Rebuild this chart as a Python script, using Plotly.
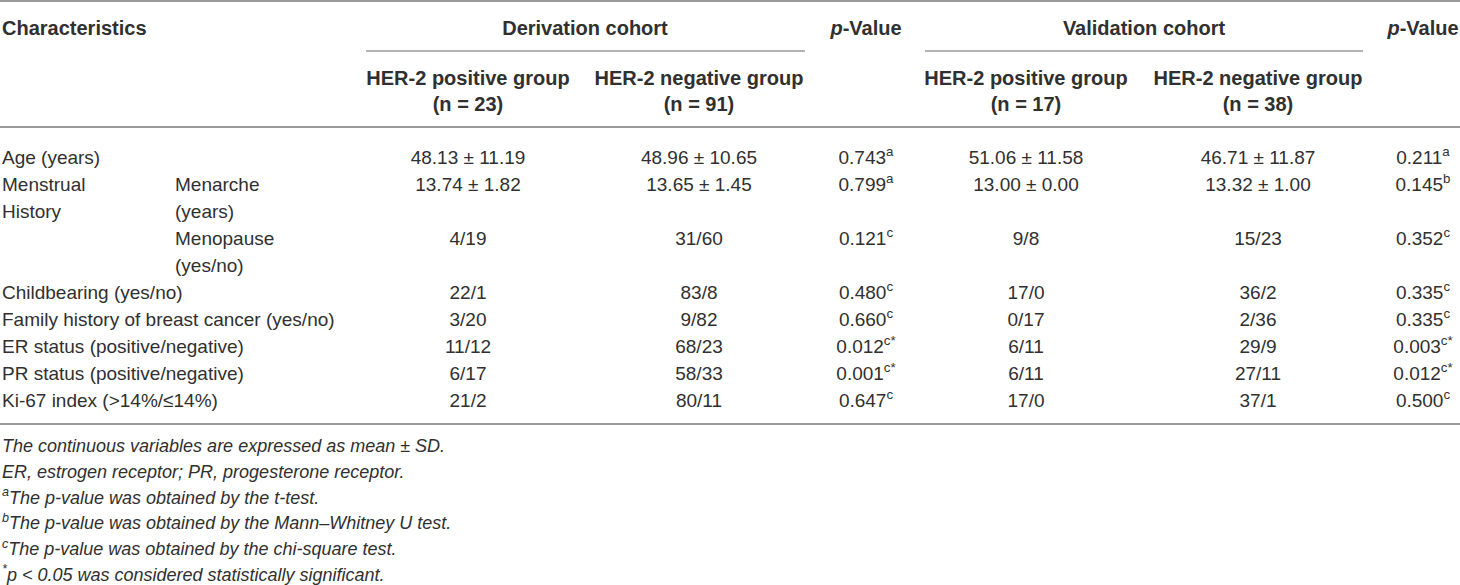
import plotly.graph_objects as go

# table content
row_labels = ["Age (years)", "Menstrual", "History", "", "", "Childbearing (yes/no)",
              "Family history of breast cancer (yes/no)", "ER status (positive/negative)",
              "PR status (positive/negative)", "Ki-67 index (>14%/≤14%)"]
sub_labels = ["", "Menarche", "(years)", "Menopause", "(yes/no)", "", "", "", "", ""]

deriv_pos = ["48.13 ± 11.19", "13.74 ± 1.82", "", "4/19", "", "22/1", "3/20", "11/12", "6/17", "21/2"]
deriv_neg = ["48.96 ± 10.65", "13.65 ± 1.45", "", "31/60", "", "83/8", "9/82", "68/23", "58/33", "80/11"]
deriv_p = ["0.743", "0.799", "", "0.121", "", "0.480", "0.660", "0.012", "0.001", "0.647"]
deriv_test = ["a", "a", "", "c", "", "c", "c", "c*", "c*", "c"]

valid_pos = ["51.06 ± 11.58", "13.00 ± 0.00", "", "9/8", "", "17/0", "0/17", "6/11", "6/11", "17/0"]
valid_neg = ["46.71 ± 11.87", "13.32 ± 1.00", "", "15/23", "", "36/2", "2/36", "29/9", "27/11", "37/1"]
valid_p = ["0.211", "0.145", "", "0.352", "", "0.335", "0.335", "0.003", "0.012", "0.500"]
valid_test = ["a", "b", "", "c", "", "c", "c", "c*", "c*", "c"]

cohorts = ["Derivation cohort", "Validation cohort"]
groups = ["HER-2 positive group", "HER-2 negative group"]
group_n = [["(n = 23)", "(n = 91)"], ["(n = 17)", "(n = 38)"]]

footnotes = [
    "The continuous variables are expressed as mean ± SD.",
    "ER, estrogen receptor; PR, progesterone receptor.",
    "<sup>a</sup>The p-value was obtained by the t-test.",
    "<sup>b</sup>The p-value was obtained by the Mann–Whitney U test.",
    "<sup>c</sup>The p-value was obtained by the chi-square test.",
    "<sup>*</sup>p < 0.05 was considered statistically significant.",
]

W, H = 1460, 585
FONT = "Liberation Sans, Arial, sans-serif"
TXT = "#303030"
LINE = "#9a9a9a"

# column centres (px)
col_x = [468, 699, 866, 1026, 1258, 1423]
row_y = [159 + 27 * i for i in range(len(row_labels))]
foot_y = [447.5 + 25.8 * i for i in range(len(footnotes))]


def sup(vals, marks):
    return [f"{v}<sup>{m}</sup>" if v else "" for v, m in zip(vals, marks)]


fig = go.Figure()


def add_text(x, y, text, pos="middle center", size=19, color=TXT):
    keep = [i for i, t in enumerate(text) if t]
    fig.add_trace(go.Scatter(
        x=[x[i] for i in keep], y=[y[i] for i in keep], text=[text[i] for i in keep],
        mode="text", textposition=pos,
        textfont=dict(family=FONT, size=size, color=color),
        hoverinfo="skip", showlegend=False, cliponaxis=False))


# body
add_text([2] * len(row_labels), row_y, row_labels, pos="middle right")
add_text([175] * len(sub_labels), row_y, sub_labels, pos="middle right")
for cx, col in zip(col_x, [deriv_pos, deriv_neg, sup(deriv_p, deriv_test),
                           valid_pos, valid_neg, sup(valid_p, valid_test)]):
    add_text([cx] * len(col), row_y, col)

# header
add_text([2], [29.5], ["<b>Characteristics</b>"], pos="middle right", size=20)
add_text([585, 1144], [29.5, 29.5], [f"<b>{c}</b>" for c in cohorts], size=20)
add_text([col_x[2], col_x[5]], [29.5, 29.5], ["<b><i>p</i>-Value</b>"] * 2, size=20)
add_text([col_x[0], col_x[1], col_x[3], col_x[4]], [79.5] * 4,
         [f"<b>{g}</b>" for g in groups * 2], size=20)
add_text([col_x[0], col_x[1], col_x[3], col_x[4]], [105.5] * 4,
         [f"<b>{n}</b>" for pair in group_n for n in pair], size=20)

# footnotes
add_text([2] * len(footnotes), foot_y, [f"<i>{t}</i>" for t in footnotes],
         pos="middle right", size=18)

# rules
rules = [(0, W, 1, 2), (366, 805, 51, 1.5), (925, 1363, 51, 1.5),
         (0, W, 127, 2), (0, W, 424, 2)]
for x0, x1, y, w in rules:
    fig.add_shape(type="line", x0=x0, x1=x1, y0=y, y1=y, xref="x", yref="y",
                  line=dict(color=LINE, width=w))

fig.update_layout(
    width=W, height=H, margin=dict(l=0, r=0, t=0, b=0),
    paper_bgcolor="white", plot_bgcolor="white",
    xaxis=dict(range=[0, W], visible=False, fixedrange=True),
    yaxis=dict(range=[H, 0], visible=False, fixedrange=True),
)

fig.write_html("out.html", config={"displayModeBar": False},
               post_script="document.body.style.margin='0';document.body.style.overflow='hidden';")
